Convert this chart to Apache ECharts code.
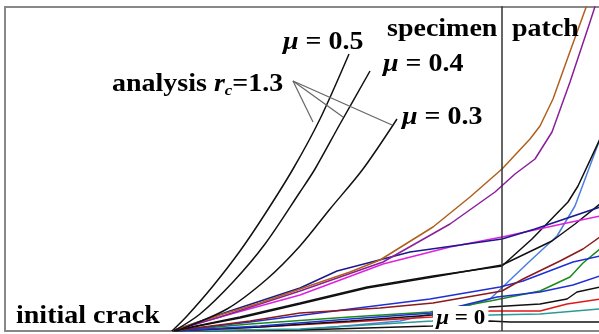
<!DOCTYPE html>
<html>
<head>
<meta charset="utf-8">
<script src="https://cdn.jsdelivr.net/npm/echarts@6/dist/echarts.min.js"></script>
<style>
  html, body { margin: 0; padding: 0; background: #fff; }
  #chart { width: 599px; height: 334px; }
</style>
</head>
<body>
<div id="chart"></div>
<script>
// crack path traces: [crack length, growth]
const mu05 = [[172,0],[187,15],[213,45],[240,80],[265,117],[293,162],[320,212],[349,277]];
const mu04 = [[174,0],[200,17],[233,49],[265,87],[300,139],[315,162],[340,207],[370,260]];
const mu03 = [[176,0],[227,22],[267,52],[300,85],[330,122],[363,162],[397,212]];

const brown = [[172,0],[220,16],[260,28],[300,42],[350,59],[380,71],[433,104],[470,134],[502,162],[530,192],[540,205],[553,232],[572,285],[592,340]];
const purple = [[172,0],[220,14],[300,40],[383,69],[450,107],[495,139],[515,157],[535,172],[552,199],[570,249],[590,309],[600,340]];
const navy = [[172,0],[230,20],[300,43],[337,60],[410,79],[460,86],[502,92],[535,102],[600,124]];
const pink = [[172,0],[220,14],[300,36],[383,67],[450,84],[502,94],[562,107],[600,115]];
const blackMid = [[172,0],[240,14],[300,28],[367,44],[433,55],[502,65],[532,92],[568,129],[578,145],[600,192]];
const black2 = [[172,0],[240,13],[300,27],[367,43],[433,54],[502,66],[552,90],[575,107],[600,127]];
const maroon = [[172,0],[250,10],[300,18],[380,23],[433,28],[502,40],[523,52],[560,70],[583,82],[600,94]];
const blue1 = [[172,0],[250,9],[350,22],[430,32],[500,44],[523,50],[573,69],[600,75]];
const blue2 = [[172,0],[260,5],[350,12],[432,18],[497,34],[540,39],[573,46],[600,55]];
const green = [[172,0],[250,7],[350,14],[430,19],[490,30],[540,40],[570,54],[583,68],[600,82]];
const black3 = [[172,0],[260,4],[350,10],[432,16],[490,24],[540,27],[567,32],[577,39],[600,44]];
const red = [[172,0],[260,4],[350,9],[432,14],[490,20],[540,20],[567,27],[600,32]];
const teal = [[172,0],[300,2],[432,10],[490,16],[540,17],[600,22]];
const blackBottom = [[172,0],[300,1],[432,5],[490,10],[510,9],[600,9]];
const lightBlue = [[172,0],[300,1],[400,10],[470,26],[490,32],[530,70],[557,95],[575,125],[600,192]];

// pointer lines from the "analysis" label
const pointerFrom = [293,250];
const pointerTo = [[313,209],[343,214],[392,206]];

const interfaceX = 502; // specimen / patch boundary

const chart = echarts.init(document.getElementById('chart'));

function trace(data, color, width, smooth) {
    return {
        type: 'line', data: data, symbol: 'none', smooth: smooth || false,
        lineStyle: { color: color, width: width || 1.5 }, silent: true
    };
}

const series = [
    trace(lightBlue, '#4a7fe0'),
    trace(blackBottom, '#111'),
    trace(teal, '#2a9a9a'),
    trace(red, '#e01818'),
    trace(black3, '#111'),
    trace(green, '#1a8a1a'),
    trace(blue2, '#1f2fd6'),
    trace(blue1, '#1f2fd6'),
    trace(maroon, '#8b1a1a'),
    trace(black2, '#111'),
    trace(blackMid, '#111'),
    trace(pink, '#e020e0'),
    trace(navy, '#1a1a8c'),
    trace(purple, '#8a1f9a'),
    trace(brown, '#b0601e'),
    trace(mu03, '#111', 1.5, 0.3),
    trace(mu04, '#111', 1.5, 0.3),
    trace(mu05, '#111', 1.5, 0.3),
    trace([[interfaceX, 0], [interfaceX, 325]], '#333', 1.5)
];
pointerTo.forEach(p => series.push(trace([pointerFrom, p], '#666', 1.2)));

const serif = '"Liberation Serif", "Times New Roman", serif';
function label(x, y, text, rich, size, extra) {
    const s = size || 25;
    const r = {};
    Object.keys(rich || {}).forEach(k => {
        r[k] = Object.assign({ fontFamily: serif, fontWeight: 'bold', fontSize: s }, rich[k]);
    });
    return Object.assign({
        type: 'text', x: x, y: y, scaleX: 1.12, z: 100, silent: true,
        style: {
            text: text, rich: r, fontFamily: serif, fontWeight: 'bold', fontSize: s,
            fill: '#000', verticalAlign: 'middle', align: 'left'
        }
    }, extra || {});
}
const muRich = { m: { fontStyle: 'italic' }, n: {} };

chart.setOption({
    animation: false,
    backgroundColor: '#fff',
    grid: {
        left: 5, top: 7, width: 600, height: 324, outerBoundsMode: 'none',
        show: true, borderColor: '#888', borderWidth: 2
    },
    xAxis: { type: 'value', min: 5, max: 605, show: false },
    yAxis: { type: 'value', min: 0, max: 324, show: false },
    series: series,
    graphic: [
        label(283, 43, '{m|μ}{n| = 0.5}', muRich),
        label(383, 65, '{m|μ}{n| = 0.4}', muRich),
        label(402, 118, '{m|μ}{n| = 0.3}', muRich),
        label(387, 30, 'specimen'),
        label(512, 30, 'patch'),
        label(112, 85, '{n|analysis }{m|r}{s|c}{n|=1.3}', {
            n: {}, m: { fontStyle: 'italic' },
            s: { fontStyle: 'italic', fontSize: 15, padding: [12, 0, 0, 0] }
        }),
        label(16, 317, 'initial crack', null, 25, {}),
        (function () {
            const g = label(433, 318, '{m|μ}{n| = 0}', { m: { fontStyle: 'italic' }, n: {} }, 22);
            g.scaleX = 1.05;
            g.style.backgroundColor = '#fff';
            g.style.padding = [1, 3, 1, 3];
            return g;
        })()
    ]
});
</script>
</body>
</html>
